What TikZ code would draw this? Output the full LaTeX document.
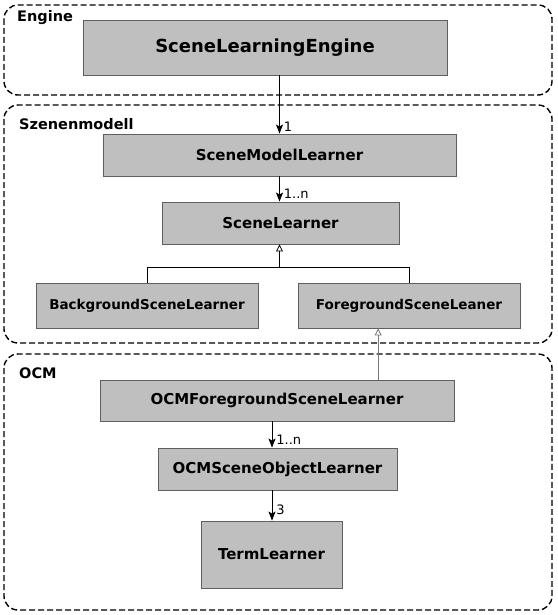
\documentclass[tikz,border=0pt]{standalone}
\usepackage{fontspec}
\setmainfont{DejaVu Sans}
\usepackage{xcolor}
\usepackage{tikz}
\usetikzlibrary{arrows.meta,positioning,calc}
\definecolor{boxgray}{RGB}{191, 191, 191}
\definecolor{boxedge}{RGB}{95, 95, 95}
\definecolor{linkgray}{RGB}{120, 120, 120}

\tikzset{
    classbox/.style={draw=boxedge, line width=0.9pt, fill=boxgray, inner sep=0pt,
        font=\fontsize{15}{17}\selectfont\bfseries},
    smallclass/.style={classbox, font=\fontsize{13.5}{16}\selectfont\bfseries},
    groupbox/.style={draw=black, line width=1.4pt, dash pattern=on 6pt off 3pt,
        rounded corners=14pt},
    grouplabel/.style={anchor=west, inner sep=0pt, font=\fontsize{14.5}{17}\selectfont\bfseries},
    multlabel/.style={anchor=west, inner sep=0pt, font=\fontsize{13}{15}\selectfont},
    uses/.style={-{Stealth[length=9pt,width=7pt,inset=2pt]}, line width=0.8pt},
    inherits/.style={-{Triangle[open,length=7pt,width=7pt]}, line width=0.8pt}
}

\begin{document}
\begin{tikzpicture}[x=1pt, y=-1pt]
    \useasboundingbox (0,0) rectangle (557,615);

    % Packages
    \draw[groupbox] (4,5) rectangle (552,95);
    \draw[groupbox] (4,105) rectangle (552,343);
    \draw[groupbox] (4,354) rectangle (552,610);
    \node[grouplabel] (engine) at (17,18) {Engine};
    \node[grouplabel] (szene) at (19,124) {Szenenmodell};
    \node[grouplabel] (ocm) at (19,373) {OCM};

    % Classes
    \node[classbox, minimum width=364pt, minimum height=55pt,
        font=\fontsize{18}{21}\selectfont\bfseries] (SLE) at (265,47.5) {SceneLearningEngine};
    \node[classbox, minimum width=353pt, minimum height=42pt] (SML) at (279.5,155) {SceneModelLearner};
    \node[classbox, minimum width=237pt, minimum height=42pt] (SL) at (280.5,223) {SceneLearner};
    \node[smallclass, minimum width=222pt, minimum height=45pt] (BSL) at (147,305.5) {BackgroundSceneLearner};
    \node[smallclass, minimum width=222pt, minimum height=45pt] (FSL) at (409,305.5) {ForegroundSceneLeaner};
    \node[classbox, minimum width=354pt, minimum height=41pt] (OCMF) at (277,400.5) {OCMForegroundSceneLearner};
    \node[classbox, minimum width=239pt, minimum height=42pt] (OSOL) at (277.5,469) {OCMSceneObjectLearner};
    \node[classbox, minimum width=141pt, minimum height=67pt] (TL) at (271.5,554.5) {TermLearner};

    % Associations
    \coordinate (ocmout) at ($(OCMF.south)+(-5,0)$);
    \draw[uses] (SML.north |- SLE.south) -- (SML.north)
        node[multlabel, pos=0.88, xshift=4pt] (m1) {1};
    \draw[uses] (SML.south) -- (SML.south |- SL.north)
        node[multlabel, pos=0.7, xshift=4pt] (m2) {1..n};
    \draw[uses] (ocmout) -- (ocmout |- OSOL.north)
        node[multlabel, pos=0.7, xshift=4pt] (m3) {1..n};
    \draw[uses] (ocmout |- OSOL.south) -- (ocmout |- TL.north)
        node[multlabel, pos=0.65, xshift=4pt] (m4) {3};

    % Generalisations
    \coordinate (join) at ($(SL.south)+(-1,23)$);
    \coordinate (fslin) at ($(OCMF.north)!0.57!(OCMF.north east)$);
    \draw[line width=0.8pt] (BSL.north) |- (join) -| (FSL.north);
    \draw[inherits] (join) -- (join |- SL.south);
    \draw[inherits, linkgray] (fslin) -- (fslin |- FSL.south);
\end{tikzpicture}
\end{document}
